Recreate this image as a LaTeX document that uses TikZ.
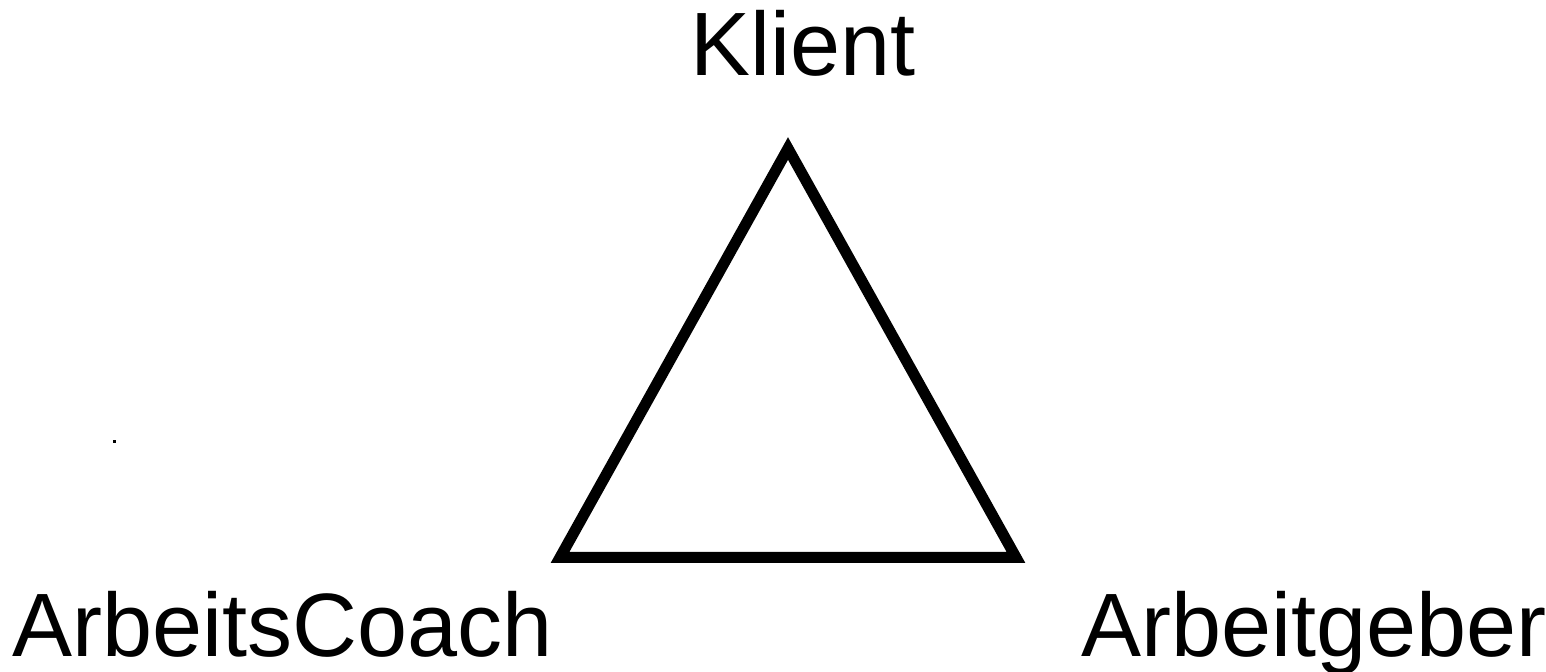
\documentclass[tikz,border=0pt]{standalone}
\usepackage{fontspec}
\setmainfont{Liberation Sans}
\usetikzlibrary{positioning}
\begin{document}
\begin{tikzpicture}[
    x=0.5pt, y=-0.5pt,
    role/.style={inner sep=0pt, outer sep=0pt, anchor=base west, font=\fontsize{45}{54}\selectfont},
    edgeline/.style={line width=5.5pt, line join=miter}
  ]
  \useasboundingbox (0,0) rectangle (1546,672);
  % corners of the triangle
  \coordinate (apex) at (788,148.5);
  \coordinate (bl) at (560,557.5);
  \coordinate (br) at (1016,557.5);
  \draw[edgeline] (apex) -- (bl) -- (br) -- cycle;
  % the three roles
  \node[role] (klient) at (690,76) {Klient};
  \node[role] (coach) at (12,656) {ArbeitsCoach};
  \node[role] (geber) at (1081,656) {Arbeitgeber};
  % stray dot
  \fill (113,440.5) rectangle (116,443.5);
\end{tikzpicture}
\end{document}
